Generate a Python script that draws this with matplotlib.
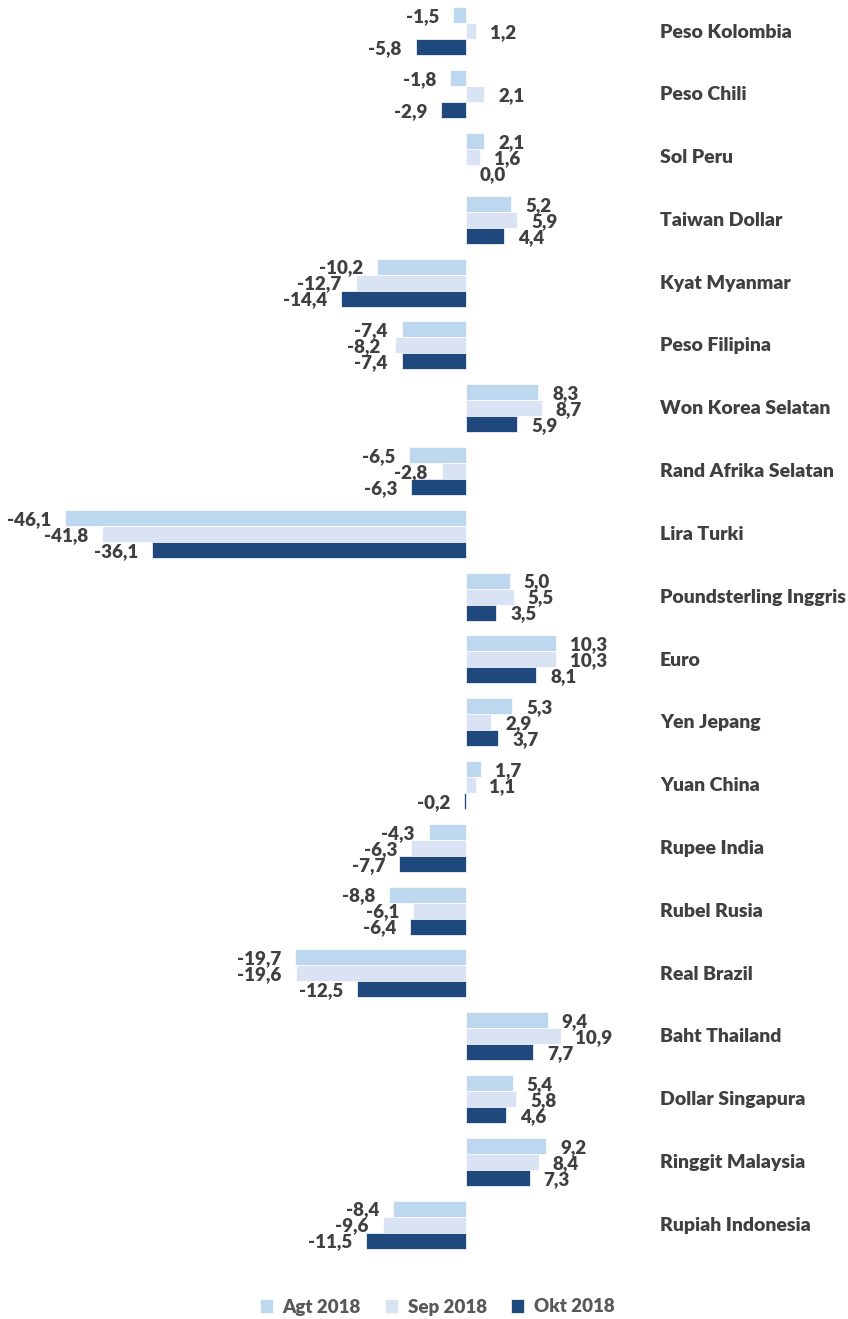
import matplotlib
matplotlib.use("Agg")
import matplotlib.pyplot as plt
import numpy as np

categories = ["Peso Kolombia", "Peso Chili", "Sol Peru", "Taiwan Dollar", "Kyat Myanmar",
              "Peso Filipina", "Won Korea Selatan", "Rand Afrika Selatan", "Lira Turki",
              "Poundsterling Inggris", "Euro", "Yen Jepang", "Yuan China", "Rupee India",
              "Rubel Rusia", "Real Brazil", "Baht Thailand", "Dollar Singapura",
              "Ringgit Malaysia", "Rupiah Indonesia"]
agt_2018 = [-1.5, -1.8, 2.1, 5.2, -10.2, -7.4, 8.3, -6.5, -46.1, 5.0, 10.3, 5.3, 1.7, -4.3,
            -8.8, -19.7, 9.4, 5.4, 9.2, -8.4]
sep_2018 = [1.2, 2.1, 1.6, 5.9, -12.7, -8.2, 8.7, -2.8, -41.8, 5.5, 10.3, 2.9, 1.1, -6.3,
            -6.1, -19.6, 10.9, 5.8, 8.4, -9.6]
okt_2018 = [-5.8, -2.9, 0.0, 4.4, -14.4, -7.4, 5.9, -6.3, -36.1, 3.5, 8.1, 3.7, -0.2, -7.7,
            -6.4, -12.5, 7.7, 4.6, 7.3, -11.5]
series_names = ["Agt 2018", "Sep 2018", "Okt 2018"]

colors = ["#BDD7EE", "#DAE3F3", "#1F497D"]
text_color = "#404040"
font = "Lato"
weight = "heavy"

W, H = 848, 1319
fig = plt.figure(figsize=(W / 100, H / 100), dpi=100)
ax = fig.add_axes([5 / W, 1 - 1256 / H, (640 - 5) / W, 1256 / H])

n = len(categories)
y = np.arange(n)
bh = 0.255
series = [agt_2018, sep_2018, okt_2018]
for k, (vals, name, c) in enumerate(zip(series, series_names, colors)):
    pos = y + (k - 1) * bh
    ax.barh(pos, vals, height=bh, color=c, label=name, edgecolor="white", linewidth=0.5)
    for p, v in zip(pos, vals):
        txt = f"{v:.1f}".replace(".", ",")
        if v < 0:
            ax.annotate(txt, (v, p), xytext=(-10, -1), textcoords="offset points",
                        ha="right", va="center", fontsize=13.5, fontweight=weight,
                        color=text_color, family=font)
        else:
            ax.annotate(txt, (v, p), xytext=(10, -1), textcoords="offset points",
                        ha="left", va="center", fontsize=13.5, fontweight=weight,
                        color=text_color, family=font)

ax.set_xlim(-53, 20)
ax.set_ylim(n - 0.5, -0.5)
ax.axis("off")

for i, cat in enumerate(categories):
    fig.text(660 / W, 1 - (32 + i * 62.8) / H, cat, ha="left", va="center",
             fontsize=14, fontweight=weight, color=text_color, family=font)

leg = fig.legend(loc="center", bbox_to_anchor=(437 / W, 1 - 1307 / H), ncol=3,
                 frameon=False, handlelength=0.7, handleheight=0.7, columnspacing=1.3,
                 handletextpad=0.5,
                 prop={"family": font, "weight": weight, "size": 13.5})
for t in leg.get_texts():
    t.set_color("#595959")

fig.savefig("out.png", dpi=100)
